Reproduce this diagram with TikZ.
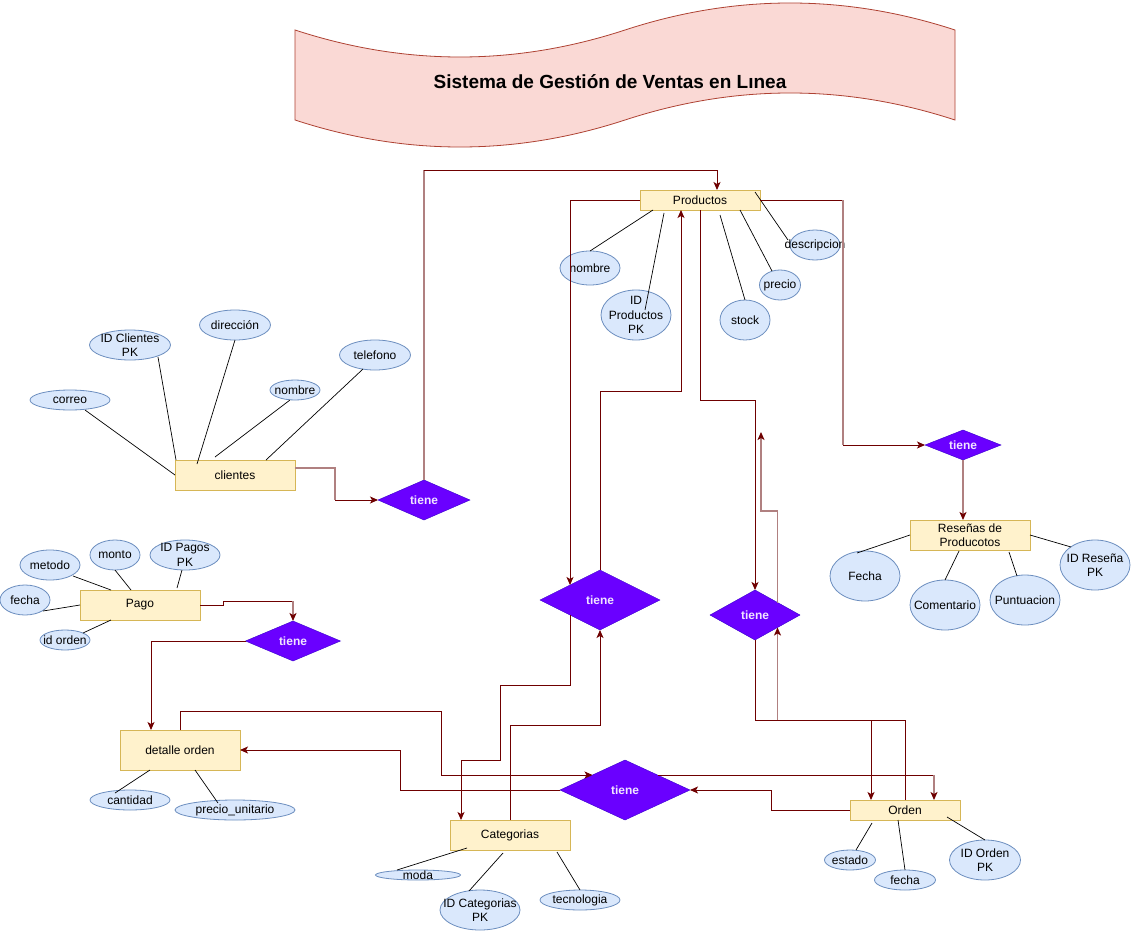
\documentclass[tikz,border=0pt]{standalone}
\usepackage{fontspec}
\setmainfont{Liberation Sans}
\usetikzlibrary{shapes.geometric,arrows.meta,calc}
\definecolor{entfill}{HTML}{FFF2CC}
\definecolor{entdraw}{HTML}{D6B656}
\definecolor{attfill}{HTML}{DAE8FC}
\definecolor{attdraw}{HTML}{6C8EBF}
\definecolor{relfill}{HTML}{6A00FF}
\definecolor{reldraw}{HTML}{3700CC}
\definecolor{reltext}{HTML}{F0E4FF}
\definecolor{dred}{HTML}{6F0000}
\definecolor{rosy}{HTML}{B08080}
\definecolor{ttlfill}{HTML}{FAD9D5}
\definecolor{ttldraw}{HTML}{AE4132}
\begin{document}
\begin{tikzpicture}[x=1pt,y=-1pt,
  every node/.style={inner sep=0pt, outer sep=0pt},
  entity/.style={rectangle, draw=entdraw, fill=entfill, line width=0.8pt, font=\fontsize{12}{14.4}\selectfont, align=center},
  attrib/.style={ellipse, draw=attdraw, fill=attfill, line width=0.8pt},
  atxt/.style={font=\fontsize{12}{14.4}\selectfont, align=center},
  rel/.style={diamond, draw=reldraw, fill=relfill, text=reltext, font=\bfseries\fontsize{12}{14.4}\selectfont, shape aspect=2},
  al/.style={draw=black, line width=0.7pt},
  dk/.style={draw=dred, line width=1pt},
  rs/.style={draw=rosy, line width=1.6pt},
  tip/.style={-{Stealth[length=8pt,width=7pt,inset=2pt,color=dred]}},
]
\useasboundingbox (0,0) rectangle (1131,931);
\fill[white] (0,0) rectangle (1131,931);

% title banner
\draw[fill=ttlfill, draw=ttldraw, line width=0.8pt]
  (295,30) .. controls (405,66) and (515,66) .. (625,30)
  .. controls (735,-6) and (845,-6) .. (955,30)
  -- (955,120)
  .. controls (845,84) and (735,84) .. (625,120)
  .. controls (515,156) and (405,156) .. (295,120) -- cycle;
\node[font=\bfseries\fontsize{19}{23}\selectfont] (title) at (610,82) {Sistema de Gestión de Ventas en Lınea};

% entities
\node[entity, minimum width=120, minimum height=20] (prod) at (700,200) {Productos};
\node[entity, minimum width=120, minimum height=30] (cli) at (235,475) {clientes};
\node[entity, minimum width=120, minimum height=30] (pago) at (140,605) {Pago};
\node[entity, minimum width=120, minimum height=40] (det) at (180,750) {detalle orden};
\node[entity, minimum width=120, minimum height=30] (cat) at (510,835) {Categorias};
\node[entity, minimum width=110, minimum height=20] (orden) at (905,810) {Orden};
\node[entity, minimum width=120, minimum height=30] (res) at (970,535) {Reseñas de\\Producotos};

% relationships
\node[rel, minimum width=92, minimum height=40] (tc) at (424,500) {tiene};
\node[rel, minimum width=95, minimum height=40] (tp) at (293,641) {tiene};
\node[rel, minimum width=120, minimum height=60] (t1) at (600,600) {tiene};
\node[rel, minimum width=90, minimum height=50] (t2) at (755,615) {tiene};
\node[rel, minimum width=130, minimum height=60] (t3) at (625,790) {tiene};
\node[rel, minimum width=76, minimum height=30] (tr) at (963,445) {tiene};

% attributes - Productos
\node[attrib, minimum width=60, minimum height=34, label={[atxt]center:nombre}] (pnom) at (590,268) {};
\node[attrib, minimum width=70, minimum height=50, label={[atxt]center:ID\\Productos\\PK}] (pid) at (636,315) {};
\node[attrib, minimum width=50, minimum height=40, label={[atxt]center:stock}] (pstock) at (745,320) {};
\node[attrib, minimum width=41, minimum height=30, label={[atxt]center:precio}] (pprecio) at (780,285) {};
\node[attrib, minimum width=50, minimum height=30, label={[atxt]center:descripcion}] (pdesc) at (815,245) {};
% attributes - clientes
\node[attrib, minimum width=81, minimum height=30, label={[atxt]center:ID Clientes\\PK}] (cid) at (130,345) {};
\node[attrib, minimum width=71, minimum height=30, label={[atxt]center:dirección}] (cdir) at (235,325) {};
\node[attrib, minimum width=50, minimum height=20, label={[atxt]center:nombre}] (cnom) at (295,390) {};
\node[attrib, minimum width=71, minimum height=30, label={[atxt]center:telefono}] (ctel) at (375,355) {};
\node[attrib, minimum width=80, minimum height=20, label={[atxt]center:correo}] (ccor) at (70,400) {};
% attributes - Pago
\node[attrib, minimum width=60, minimum height=30, label={[atxt]center:metodo}] (pamet) at (50,565) {};
\node[attrib, minimum width=50, minimum height=30, label={[atxt]center:monto}] (pamon) at (115,555) {};
\node[attrib, minimum width=70, minimum height=30, label={[atxt]center:ID Pagos\\PK}] (paid) at (185,555) {};
\node[attrib, minimum width=50, minimum height=30, label={[atxt]center:fecha}] (pafec) at (25,600) {};
\node[attrib, minimum width=50, minimum height=20, label={[atxt]center:id orden}] (paord) at (65,640) {};
% attributes - detalle orden
\node[attrib, minimum width=80, minimum height=20, label={[atxt]center:cantidad}] (dcant) at (130,800) {};
\node[attrib, minimum width=120, minimum height=20, label={[atxt]center:precio\_unitario}] (dprec) at (235,810) {};
% attributes - Categorias
\node[attrib, minimum width=85, minimum height=10, label={[atxt]center:moda}] (cmoda) at (418,875) {};
\node[attrib, minimum width=80, minimum height=40, label={[atxt]center:ID Categorias\\PK}] (cid2) at (480,910) {};
\node[attrib, minimum width=80, minimum height=20, label={[atxt]center:tecnologia}] (ctec) at (580,900) {};
% attributes - Orden
\node[attrib, minimum width=51, minimum height=20, label={[atxt]center:estado}] (oest) at (850,860) {};
\node[attrib, minimum width=61, minimum height=20, label={[atxt]center:fecha}] (ofec) at (905,880) {};
\node[attrib, minimum width=71, minimum height=40, label={[atxt]center:ID Orden\\PK}] (oid) at (985,860) {};
% attributes - Reseñas
\node[attrib, minimum width=70, minimum height=50, label={[atxt]center:Fecha}] (rfec) at (865,576) {};
\node[attrib, minimum width=70, minimum height=50, label={[atxt]center:Comentario}] (rcom) at (945,605) {};
\node[attrib, minimum width=70, minimum height=50, label={[atxt]center:Puntuacion}] (rpun) at (1025,600) {};
\node[attrib, minimum width=70, minimum height=50, label={[atxt]center:ID Reseña\\PK}] (rid) at (1095,565) {};

% attribute lines
\draw[al] ($(prod)+(-47,10)$) -- (pnom.north);
\draw[al] ($(prod)+(-36,13)$) -- ($(pid)+(9,-5)$);
\draw[al] ($(prod)+(20,15)$) -- (pstock.north);
\draw[al] ($(prod)+(40,10)$) -- ($(pprecio)+(-8,-14)$);
\draw[al] ($(prod)+(55,-8)$) -- ($(pdesc)+(-27,-5)$);
\draw[al] (cli.west) -- ($(ccor)+(15,10)$);
\draw[al] ($(cli)+(-59,-15)$) -- ($(cid)+(28,12)$);
\draw[al] ($(cli)+(-38,-11)$) -- (cdir.south);
\draw[al] ($(cli)+(-20,-18)$) -- ($(cnom)+(-5,10)$);
\draw[al] ($(cli)+(31,-15)$) -- ($(ctel)+(-12,14)$);
\draw[al] ($(pago)+(-29,-15)$) -- ($(pamet)+(23,11)$);
\draw[al] ($(pago)+(-9,-15)$) -- (pamon.south);
\draw[al] ($(pago)+(37,-17)$) -- ($(paid)+(-3,15)$);
\draw[al] (pago.west) -- ($(pafec)+(18,11)$);
\draw[al] ($(pago)+(-29,15)$) -- ($(paord)+(18,-7)$);
\draw[al] ($(det)+(-30,20)$) -- ($(dcant)+(-15,-7)$);
\draw[al] ($(det)+(15,20)$) -- ($(dprec)+(-17,-7)$);
\draw[al] ($(cat)+(-43,13)$) -- ($(cmoda)+(-21,-5)$);
\draw[al] ($(cat)+(-7,18)$) -- ($(cid2)+(-11,-19)$);
\draw[al] ($(cat)+(47,17)$) -- (ctec.north);
\draw[al] ($(orden)+(-33,13)$) -- ($(oest)+(6,-10)$);
\draw[al] ($(orden)+(-7,10)$) -- (ofec.north);
\draw[al] ($(orden)+(42,7)$) -- (oid.north);
\draw[al] (res.west) -- ($(rfec)+(-8,-23)$);
\draw[al] ($(res)+(-11,16)$) -- (rcom.north);
\draw[al] ($(res)+(39,17)$) -- ($(rpun)+(-8,-24)$);
\draw[al] (res.east) -- ($(rid)+(-24,-18)$);

% junction coordinates
\coordinate (j1) at (335,500);
\coordinate (j2) at (424,170);
\coordinate (j3) at (843,200);
\coordinate (j4) at (843,445);
\coordinate (j5) at (293,601);
\coordinate (j6) at (934,775);
\coordinate (j7) at (777.5,720);
\coordinate (dang) at (761,432);

% connectors
\draw[rs] ($(cli.east)+(0,-7)$) -- (335,468) -- (j1);
\draw[dk,tip] (j1) -- (tc.west);
\draw[rs] (tc.north) -- (j2);
\draw[dk,tip] (j2) -- (717,170) -- ($(prod.north)+(17,0)$);
\draw[dk,tip] (prod.west) -- (570,200) -- (t1.north west);
\draw[dk,tip] (t1.north) -- (600,391) -- (681,391) -- ($(prod.south)+(-19,0)$);
\draw[dk,tip] (prod.south) -- (700,400) -- (755,400) -- (t2.north);
\draw[dk] (prod.east) -- (j3);
\draw[rs] (j3) -- (j4);
\draw[dk,tip] (j4) -- (tr.west);
\draw[rs,tip] (tr.south) -- ($(res.north)+(-7,0)$);
\draw[dk] (pago.east) -- (223,605) -- (223,601) -- (j5);
\draw[rs,tip] (j5) -- (tp.north);
\draw[dk,tip] (tp.west) -- (151,641) -- ($(det.north)+(-29,0)$);
\draw[dk,tip] (det.north) -- (180,711) -- (441,711) -- (441,775) -- (t3.north west);
\draw[dk] (t3.north east) -- (j6);
\draw[rs,tip] (j6) -- ($(orden.north)+(29,0)$);
\draw[dk,tip] (t3.west) -- (400,790) -- (400,750) -- (det.east);
\draw[dk,tip] (orden.west) -- (771,810) -- (771,790) -- (t3.east);
\draw[dk,tip] (t2.south) -- (755,720) -- (871,720) -- ($(orden.north)+(-34,0)$);
\draw[dk] (orden.north) -- (905,720) -- (j7);
\draw[rs,tip] (j7) -- (t2.south east);
\draw[rs,tip] (t2.north east) -- (777.5,511) -- (761,511) -- (dang);
\draw[dk,tip] (t1.south west) -- (570,685) -- (500,685) -- (500,760) -- (461,760) -- ($(cat.north)+(-49,0)$);
\draw[dk,tip] (cat.north) -- (510,725) -- (600,725) -- (t1.south);
\end{tikzpicture}
\end{document}
